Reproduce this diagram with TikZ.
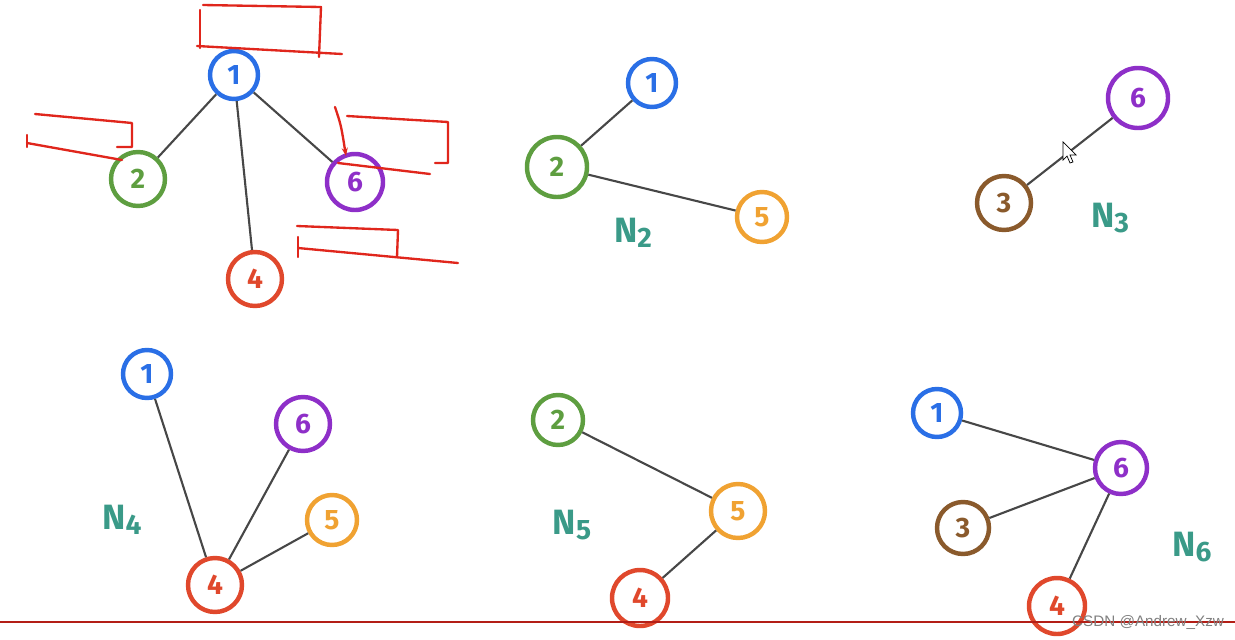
\documentclass[tikz,border=0pt]{standalone}
\usepackage{fontspec}
\setsansfont{Fira Sans}
\newfontfamily\wmfont{Liberation Sans}
\usetikzlibrary{arrows.meta}

\definecolor{cblue}{HTML}{2A6FE6}
\definecolor{cgreen}{HTML}{5E9E40}
\definecolor{cpurple}{HTML}{8E2FC8}
\definecolor{cred}{HTML}{E0482C}
\definecolor{corange}{HTML}{F0A232}
\definecolor{cbrown}{HTML}{8A5A2C}
\definecolor{cteal}{HTML}{3A9A88}
\definecolor{cmark}{HTML}{E0261C}

\newcommand{\netname}[1]{N\raisebox{-0.3ex}{\fontsize{24}{26}\selectfont #1}}

\tikzset{
  vert/.style={circle, draw=#1, text=#1, line width=3.8pt, minimum size=1.5cm,
    inner sep=0pt, font=\sffamily\fontsize{24}{26}\selectfont\bfseries},
  edge/.style={line width=1.8pt, draw=black!72},
  netlabel/.style={text=cteal, font=\sffamily\fontsize{30}{32}\selectfont\bfseries},
  scribble/.style={cmark, line width=2pt, line cap=round, line join=round}
}

\begin{document}
\begin{tikzpicture}[x=0.03cm, y=-0.03cm]
    \useasboundingbox (0,0) rectangle (1235,639);

    % Whole tree
    \node[vert=cblue, minimum size=1.44cm] (a1) at (234,75) {1};
    \node[vert=cgreen, minimum size=1.62cm] (a2) at (138,179) {2};
    \node[vert=cpurple, minimum size=1.68cm] (a6) at (355,182) {6};
    \node[vert=cred, minimum size=1.62cm] (a4) at (255,279) {4};
    \draw[edge] (a1) -- (a2);
    \draw[edge] (a1) -- (a4);
    \draw[edge] (a1) -- (a6);

    % Red scribbles round the tree
    \draw[scribble] (203,5) -- (321,7) -- (319,57);
    \draw[scribble] (200,10) -- (200,48);
    \draw[scribble] (197,46) -- (342,54);
    \draw[scribble] (35,114) -- (132,123) -- (132,147) -- (117,147);
    \draw[scribble] (27,135) -- (27,147);
    \draw[scribble] (27,143) -- (122,160);
    \draw[scribble, -{Stealth[length=7pt]}] (335,107) .. controls (341,125) .. (346,156);
    \draw[scribble] (347,116) -- (448,122) -- (448,163) -- (435,163);
    \draw[scribble] (338,163) -- (430,174);
    \draw[scribble] (297,226) -- (398,230) -- (397,257);
    \draw[scribble] (298,237) -- (298,257);
    \draw[scribble] (298,248) -- (458,263);

    % N_2
    \node[vert=cblue, minimum size=1.44cm] (b1) at (652,83) {1};
    \node[vert=cgreen, minimum size=1.8cm] (b2) at (557,167) {2};
    \node[vert=corange] (b5) at (762,217) {5};
    \draw[edge] (b1) -- (b2);
    \draw[edge] (b2) -- (b5);
    \node[netlabel] (n2) at (633,233) {\netname{2}};

    % N_3
    \node[vert=cpurple, minimum size=1.8cm] (c6) at (1138,98) {6};
    \node[vert=cbrown, minimum size=1.62cm] (c3) at (1004,203) {3};
    \draw[edge] (c6) -- (c3);
    \node[netlabel] (n3) at (1110,218) {\netname{3}};

    % Mouse pointer
    \draw[black, line width=0.6pt, fill=white] (1063,142) -- (1063,160) -- (1067,156)
      -- (1070,163) -- (1073,162) -- (1070,155) -- (1076,155) -- cycle;

    % N_4
    \node[vert=cblue, minimum size=1.44cm] (d1) at (147,374) {1};
    \node[vert=cpurple, minimum size=1.62cm] (d6) at (303,424) {6};
    \node[vert=corange] (d5) at (332,520) {5};
    \node[vert=cred, minimum size=1.62cm] (d4) at (215,585) {4};
    \draw[edge] (d4) -- (d1);
    \draw[edge] (d4) -- (d6);
    \draw[edge] (d4) -- (d5);
    \node[netlabel] (n4) at (122,520) {\netname{4}};

    % N_5
    \node[vert=cgreen] (e2) at (558,420) {2};
    \node[vert=corange, minimum size=1.62cm] (e5) at (738,511) {5};
    \node[vert=cred, minimum size=1.68cm] (e4) at (640,598) {4};
    \draw[edge] (e2) -- (e5);
    \draw[edge] (e5) -- (e4);
    \node[netlabel] (n5) at (572,525) {\netname{5}};

    % N_6
    \node[vert=cblue, minimum size=1.44cm] (f1) at (937,413) {1};
    \node[vert=cpurple, minimum size=1.56cm] (f6) at (1121,468) {6};
    \node[vert=cbrown, minimum size=1.56cm] (f3) at (963,528) {3};
    \node[vert=cred, minimum size=1.68cm] (f4) at (1057,606) {4};
    \draw[edge] (f1) -- (f6);
    \draw[edge] (f6) -- (f3);
    \draw[edge] (f6) -- (f4);
    \node[netlabel] (n6) at (1192,547) {\netname{6}};

    % Bottom rule and watermark
    \draw[cmark!80!black, line width=1.2pt] (0,622) -- (1235,622);
    \node[anchor=west, inner sep=0pt, text=black!50, font=\wmfont\fontsize{13}{14}\selectfont]
      (wm) at (1072,622) {CSDN @Andrew\_Xzw};
\end{tikzpicture}
\end{document}
